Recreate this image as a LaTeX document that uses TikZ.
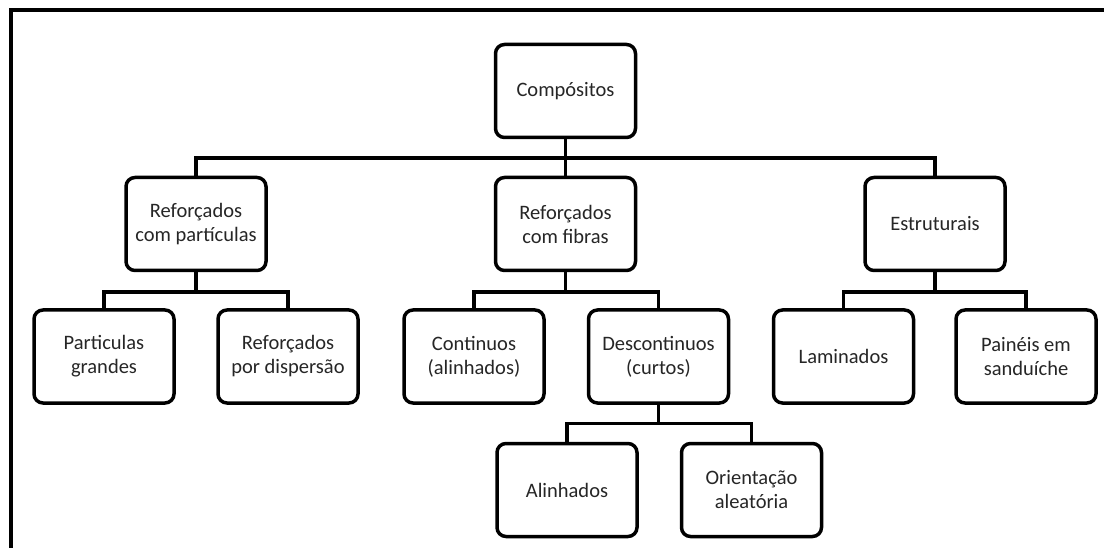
\documentclass[tikz,border=0pt]{standalone}
\usepackage{fontspec}
\setmainfont{Carlito}
\begin{document}
\begin{tikzpicture}[x=1pt,y=-1pt,
  box/.style={draw=black, line width=3.5pt, rounded corners=9pt, fill=white,
    minimum width=140pt, minimum height=93pt, align=center, inner sep=2pt,
    font=\fontsize{20.5}{24}\selectfont, text=black!85},
  link/.style={draw=black, line width=3.5pt}]
\useasboundingbox (0,0) rectangle (1104,548);
\fill[white] (0,0) rectangle (1104,548);
\draw[line width=4pt] (11,548) -- (11,10.5) -- (1104,10.5);

% level 1
\node[box] (comp) at (565.5,91) {Compósitos};
% level 2
\node[box] (rp) at (196,224) {Reforçados\\com partículas};
\node[box] (rf) at (565.5,224) {Reforçados\\com fibras};
\node[box] (est) at (935,224) {Estruturais};
% level 3
\node[box] (pg) at (104,356.5) {Particulas\\grandes};
\node[box] (rd) at (288,356.5) {Reforçados\\por dispersão};
\node[box] (ca) at (474,356.5) {Continuos\\(alinhados)};
\node[box] (dc) at (658.5,356.5) {Descontinuos\\(curtos)};
\node[box] (lam) at (843.5,356.5) {Laminados};
\node[box] (pan) at (1026,356.5) {Painéis em\\sanduíche};
% level 4
\node[box] (al) at (567,490) {Alinhados};
\node[box] (oa) at (751.5,490) {Orientação\\aleatória};

% bus levels
\coordinate (b1) at (0,158);
\coordinate (b2) at (0,292);
\coordinate (b3) at (0,423.5);

% connectors
\draw[link] (comp.south) -- (comp.south |- b1);
\draw[link] (rp.north) -- (rp.north |- b1) -- (est.north |- b1) -- (est.north);
\draw[link] (rf.north) -- (rf.north |- b1);

\draw[link] (rp.south) -- (rp.south |- b2);
\draw[link] (pg.north) -- (pg.north |- b2) -- (rd.north |- b2) -- (rd.north);

\draw[link] (rf.south) -- (rf.south |- b2);
\draw[link] (ca.north) -- (ca.north |- b2) -- (dc.north |- b2) -- (dc.north);

\draw[link] (est.south) -- (est.south |- b2);
\draw[link] (lam.north) -- (lam.north |- b2) -- (pan.north |- b2) -- (pan.north);

\draw[link] (dc.south) -- (dc.south |- b3);
\draw[link] (al.north) -- (al.north |- b3) -- (oa.north |- b3) -- (oa.north);
\end{tikzpicture}
\end{document}
